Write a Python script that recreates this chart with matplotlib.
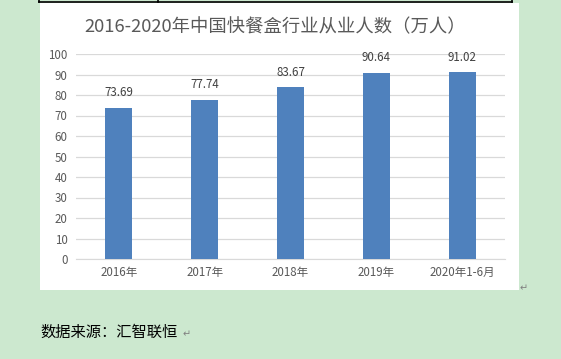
import matplotlib
matplotlib.use("Agg")
import matplotlib.pyplot as plt
from matplotlib.patches import Rectangle
from matplotlib.lines import Line2D

plt.rcParams['font.family'] = ['Noto Sans CJK SC', 'DejaVu Sans']

categories = ["2016年", "2017年", "2018年", "2019年", "2020年1-6月"]
values = [73.69, 77.74, 83.67, 90.64, 91.02]
title = "2016-2020年中国快餐盒行业从业人数（万人）"
source = "数据来源：汇智联恒"

W, H = 561, 359
fig = plt.figure(figsize=(W / 100, H / 100), dpi=100)
fig.patch.set_facecolor('#CCE8CF')


def px(x, y):
    # pixel coords (top-left origin) -> figure fraction
    return x / W, 1 - y / H


# white chart box
x0, y0 = px(40, 290)
fig.patches.append(Rectangle((x0, y0), (519 - 40) / W, (290 - 3) / H,
                             transform=fig.transFigure, facecolor='white',
                             edgecolor='none', zorder=-10))

# table border at the very top
for xs, ys in [([39, 512], [1.5, 1.5]), ([39, 39], [0, 1.5]),
               ([158, 158], [0, 1.5]), ([512, 512], [0, 1.5])]:
    fig.lines.append(Line2D([x / W for x in xs], [1 - y / H for y in ys],
                            transform=fig.transFigure, color='black', lw=1.2))

ax = fig.add_axes([76 / W, 100 / H, (505 - 76) / W, (259 - 54) / H])
ax.set_facecolor('none')
bars = ax.bar(range(len(categories)), values, width=0.315, color='#4F81BD', zorder=3)
ax.set_xlim(-0.5, len(categories) - 0.5)
ax.set_ylim(0, 100)
ax.set_yticks(range(0, 101, 10))
ax.set_xticks(range(len(categories)))
ax.set_xticklabels(categories)
ax.grid(axis='y', color='#D9D9D9', lw=0.9, zorder=0)
for s in ['top', 'right', 'left']:
    ax.spines[s].set_visible(False)
ax.spines['bottom'].set_color('#D9D9D9')
ax.tick_params(length=0, labelsize=8.3, labelcolor='#595959')
ax.tick_params(axis='y', pad=6)
ax.tick_params(axis='x', pad=5)

for b, v in zip(bars, values):
    ax.text(b.get_x() + b.get_width() / 2, v + 4.3, f"{v:.2f}",
            ha='center', va='bottom', fontsize=8.3, color='#404040')

tx, ty = px(275, 27)
fig.text(tx, ty, title, ha='center', va='center', fontsize=13.2, color='#595959')

sx, sy = px(40, 332)
fig.text(sx, sy, source, ha='left', va='center', fontsize=11, color='black')
mx, my = px(183, 334)
fig.text(mx, my, "↵", ha='left', va='center', fontsize=7, color='#808080')
mx, my = px(520, 288)
fig.text(mx, my, "↵", ha='left', va='center', fontsize=7, color='#808080')

fig.savefig("out.png", dpi=100, facecolor=fig.get_facecolor())
